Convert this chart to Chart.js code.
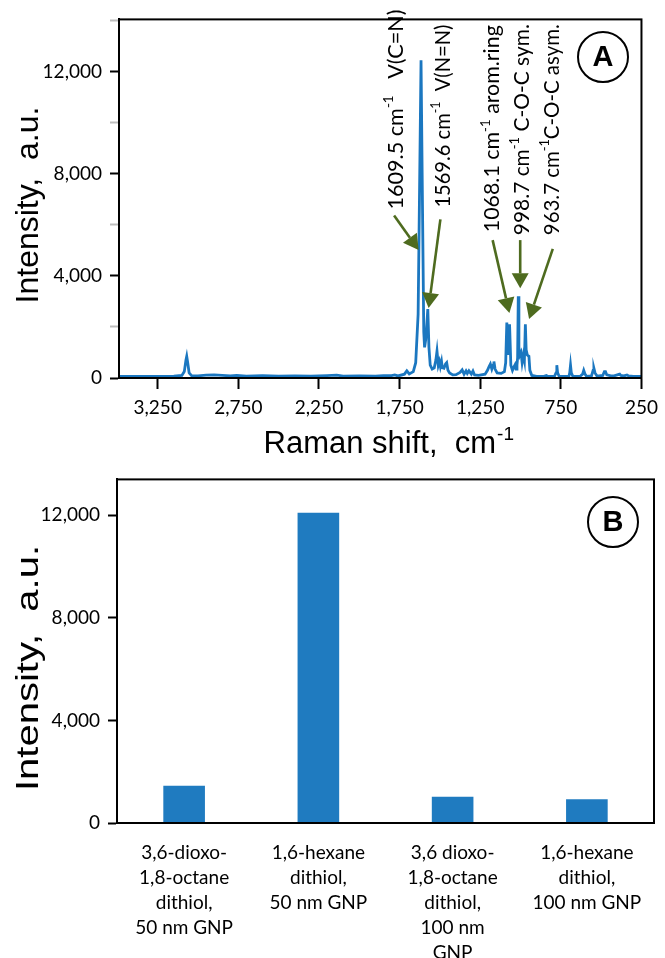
<!DOCTYPE html>
<html><head><meta charset="utf-8">
<script src="https://cdn.jsdelivr.net/npm/chart.js@4.4.1/dist/chart.umd.min.js"></script>
<style>
html,body{margin:0;padding:0;background:#fff;}
#wrap{position:relative;width:665px;height:958px;overflow:hidden;background:#fff;}
#c1{position:absolute;left:0;top:0;}
#c2{position:absolute;left:0;top:460px;}
</style></head><body>
<div id="wrap">
<canvas id="c1" width="665" height="466"></canvas>
<canvas id="c2" width="665" height="498"></canvas>
</div>
<script>
// ---------- DATA ----------
const ramanShift = [3490,3300,3150,3100,3085,3075,3070,3065,3055,3040,3000,2950,2900,2850,2800,2760,2700,2600,2500,2400,2300,2200,2140,2100,2000,1900,1850,1800,1780,1760,1720,1705,1690,1665,1650,1635,1625,1617,1610,1600,1595,1588,1580,1575,1568,1560,1548,1535,1525,1518,1510,1503,1497,1490,1485,1475,1465,1458,1450,1440,1420,1400,1375,1362,1350,1338,1330,1320,1305,1295,1285,1260,1220,1205,1195,1187,1178,1170,1165,1158,1145,1120,1100,1092,1085,1077,1068,1060,1050,1040,1034,1028,1022,1018,1014,1010,1004,997,990,982,976,970,965,958,948,942,930,900,860,840,830,790,780,775,770,760,700,695,690,685,675,630,615,608,600,590,560,550,545,538,525,490,480,473,465,440,420,400,385,378,360,340,330,300,260,250];
const intensity = [60,60,70,100,250,700,850,650,200,90,80,110,120,100,80,100,70,90,70,80,70,90,110,70,80,70,90,90,120,80,150,280,160,250,600,2500,8000,12450,8000,1800,1200,1500,2200,2700,1200,500,350,400,700,1050,500,650,450,650,400,380,550,600,300,200,120,130,220,320,150,280,180,280,150,270,120,100,150,300,450,550,350,500,650,350,200,180,250,600,2170,900,2100,500,300,450,520,350,500,800,3200,1200,900,1000,600,900,700,2100,1100,900,850,300,100,60,60,100,60,60,200,500,200,60,60,200,500,200,60,70,150,300,150,60,80,300,380,200,70,100,250,250,120,80,80,120,150,100,80,120,80,60,60,60];
const xTickValues = [3250,2750,2250,1750,1250,750,250];
const yTickValuesA = [0,2000,4000,6000,8000,10000,12000,14000];
const yTickValuesB = [0,4000,8000,12000];
const categories = [
  ['3,6-dioxo-','1,8-octane','dithiol,','50 nm GNP'],
  ['1,6-hexane','dithiol,','50 nm GNP'],
  ['3,6 dioxo-','1,8-octane','dithiol,','100 nm','GNP'],
  ['1,6-hexane','dithiol,','100 nm GNP']
];
const barValues = [1450, 12100, 1020, 930];
const peakLabels = [
  ['1609.5 cm','-1','   V(C=N)'],
  ['1569.6 cm','-1','  V(N=N)'],
  ['1068.1 cm','-1',' arom.ring'],
  ['998.7 cm','-1',' C-O-C sym.'],
  ['963.7 cm','-1','C-O-C asym.']
];

// ---------- helpers ----------
const fmt = v => Number(v).toLocaleString('en-US');
const TICK_FONT = {family:'Lato', size:19};
const ARROW = '#4e6b1f';
const LINE_BLUE = '#1b77c0';
const BAR_BLUE = '#1f7bc0';

function drawBox(chart){
  const {ctx, chartArea:a} = chart;
  ctx.save(); ctx.strokeStyle='#000'; ctx.lineWidth=2;
  ctx.strokeRect(a.left, a.top, a.right-a.left, a.bottom-a.top);
  ctx.restore();
}
function drawCircleLetter(ctx, cx, cy, r, letter){
  ctx.save(); ctx.strokeStyle='#000'; ctx.lineWidth=2;
  ctx.beginPath(); ctx.arc(cx,cy,r,0,Math.PI*2); ctx.stroke();
  ctx.fillStyle='#000'; ctx.font='bold 29px "Liberation Sans", Arial';
  ctx.textAlign='center'; ctx.textBaseline='middle';
  ctx.fillText(letter, cx, cy+1);
  ctx.restore();
}
function drawYTitle(ctx, xBase, yCenter, stretch, text){
  ctx.save();
  ctx.font='32px "Liberation Sans", Arial';
  ctx.fillStyle='#000';
  ctx.translate(xBase, yCenter);
  ctx.rotate(-Math.PI/2);
  ctx.scale(stretch,1);
  ctx.textAlign='center'; ctx.textBaseline='alphabetic';
  ctx.fillText(text, 0, 0);
  ctx.restore();
}
function drawArrow(ctx, x0,y0,x1,y1){
  const ang = Math.atan2(y1-y0, x1-x0);
  const L=15, W=8.5;
  const bx = x1 - L*Math.cos(ang), by = y1 - L*Math.sin(ang);
  ctx.save(); ctx.strokeStyle=ARROW; ctx.fillStyle=ARROW; ctx.lineWidth=2.6;
  ctx.beginPath(); ctx.moveTo(x0,y0); ctx.lineTo(bx,by); ctx.stroke();
  ctx.beginPath(); ctx.moveTo(x1,y1);
  ctx.lineTo(bx + W*Math.sin(ang), by - W*Math.cos(ang));
  ctx.lineTo(bx - W*Math.sin(ang), by + W*Math.cos(ang));
  ctx.closePath(); ctx.fill();
  ctx.restore();
}
// annotation anchors in data coordinates (text start, arrow tail, arrow tip) and text run length (px)
const noteAnchors = [
  {text:[1772,6600], tail:[1784,6368], tip:[1632,5017], len:200},
  {text:[1479,6677], tail:[1497,6214], tip:[1570,2740], len:183},
  {text:[1173,5712], tail:[1173,5403], tip:[1069,2547], len:207},
  {text:[990,5596],  tail:[1002,5403], tip:[1002,3512], len:211},
  {text:[806,5596],  tail:[800,5056],  tip:[947,2316],  len:211}
];

const spectrumPlugin = {
  id:'spectrumDecor',
  afterDraw(chart){
    const {ctx, scales:{x,y}, chartArea:a} = chart;
    drawBox(chart);
    drawYTitle(ctx, 38, 205, 1, 'Intensity,  a.u.');
    // x title with superscript
    ctx.save();
    ctx.fillStyle='#000';
    const main='Raman shift,  cm', sup='-1';
    ctx.font='31px "Liberation Sans", Arial';
    const w1 = ctx.measureText(main).width;
    ctx.font='19px "Liberation Sans", Arial';
    const w2 = ctx.measureText(sup).width;
    const cx = (a.left+a.right)/2 + 8, by = 453;
    const sx = cx - (w1+w2)/2;
    ctx.textBaseline='alphabetic'; ctx.textAlign='left';
    ctx.font='31px "Liberation Sans", Arial';
    ctx.fillText(main, sx, by);
    ctx.font='19px "Liberation Sans", Arial';
    ctx.fillText(sup, sx+w1+1, by-13);
    ctx.restore();
    drawCircleLetter(ctx, 603, 57, 25, 'A');
    // peak annotations
    const BIG='21px Lato', SMALL='13px Lato';
    peakLabels.forEach((parts, i) => {
      const an = noteAnchors[i];
      const tx = x.getPixelForValue(an.text[0]), ty = y.getPixelForValue(an.text[1]);
      ctx.save();
      ctx.font=BIG; const wa = ctx.measureText(parts[0]).width, wc = ctx.measureText(parts[2]).width;
      ctx.font=SMALL; const wb = ctx.measureText(parts[1]).width;
      const s = an.len / (wa+wb+wc);
      ctx.translate(tx, ty); ctx.rotate(-Math.PI/2); ctx.scale(s,1);
      ctx.fillStyle='#000'; ctx.textBaseline='middle'; ctx.textAlign='left';
      ctx.font=BIG; ctx.fillText(parts[0], 0, 0);
      ctx.font=SMALL; ctx.fillText(parts[1], wa, -7);
      ctx.font=BIG; ctx.fillText(parts[2], wa+wb, 0);
      ctx.restore();
      drawArrow(ctx, x.getPixelForValue(an.tail[0]), y.getPixelForValue(an.tail[1]),
                     x.getPixelForValue(an.tip[0]), y.getPixelForValue(an.tip[1]));
    });
  }
};

const barPlugin = {
  id:'barDecor',
  afterDraw(chart){
    const {ctx} = chart;
    drawBox(chart);
    drawYTitle(ctx, 38, 208, 1.25, 'Intensity,  a.u.');
    drawCircleLetter(ctx, 613, 62, 25, 'B');
  }
};

// ---------- chart A ----------
new Chart(document.getElementById('c1'), {
  type:'line',
  data:{datasets:[{
    data: ramanShift.map((v,i)=>({x:v, y:intensity[i]})),
    borderColor: LINE_BLUE, borderWidth:2.8, pointRadius:0, tension:0, fill:false
  }]},
  options:{
    responsive:false, animation:false,
    layout:{padding:{left:0,right:16,top:14,bottom:0}},
    plugins:{legend:{display:false}, tooltip:{enabled:false}},
    scales:{
      x:{type:'linear', reverse:true, min:250, max:3490,
        afterBuildTicks: s => { s.ticks = xTickValues.map(v=>({value:v})); },
        afterFit: s => { s.height = 88; },
        grid:{drawOnChartArea:false, drawTicks:true, tickLength:11, tickColor:'#000', tickWidth:2},
        border:{display:true, color:'#000', width:2},
        ticks:{color:'#000', font:TICK_FONT, padding:7, maxRotation:0, autoSkip:false, callback:v=>fmt(v)}
      },
      y:{type:'linear', min:0, max:14050,
        afterBuildTicks: s => { s.ticks = yTickValuesA.map(v=>({value:v})); },
        afterFit: s => { s.width = 119; },
        grid:{drawOnChartArea:false, drawTicks:true, tickLength:9,
              tickColor: c => (c.tick && c.tick.value % 4000 === 0) ? '#000' : '#bdbdbd', tickWidth:2},
        border:{display:true, color:'#000', width:2},
        ticks:{color:'#000', font:TICK_FONT, padding:8, autoSkip:false,
               callback: v => (v % 4000 === 0 ? fmt(v) : '')}
      }
    }
  },
  plugins:[spectrumPlugin]
});

// ---------- chart B ----------
new Chart(document.getElementById('c2'), {
  type:'bar',
  data:{labels:categories, datasets:[{data:barValues, backgroundColor:BAR_BLUE, barPercentage:0.31, categoryPercentage:1}]},
  options:{
    responsive:false, animation:false,
    layout:{padding:{left:0,right:11,top:17,bottom:0}},
    plugins:{legend:{display:false}, tooltip:{enabled:false}},
    scales:{
      x:{afterFit: s => { s.height = 135; },
        grid:{display:false, drawTicks:false},
        border:{display:true, color:'#000', width:2},
        ticks:{color:'#000', font:{family:'Lato', size:19, lineHeight:1.32}, padding:17, maxRotation:0, autoSkip:false}
      },
      y:{min:0, max:13400,
        afterBuildTicks: s => { s.ticks = yTickValuesB.map(v=>({value:v})); },
        afterFit: s => { s.width = 117; },
        grid:{drawOnChartArea:false, drawTicks:true, tickLength:9, tickColor:'#000', tickWidth:2},
        border:{display:true, color:'#000', width:2},
        ticks:{color:'#000', font:TICK_FONT, padding:8, autoSkip:false, callback:v=>fmt(v)}
      }
    }
  },
  plugins:[barPlugin]
});
</script>
</body></html>
